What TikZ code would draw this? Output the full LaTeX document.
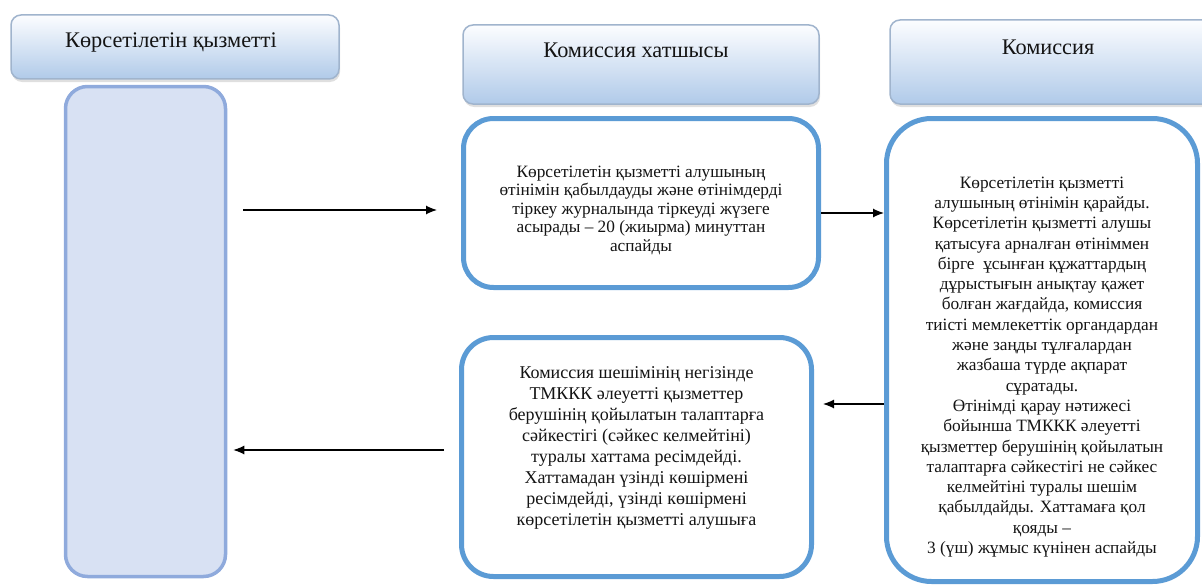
\documentclass[tikz,border=0pt]{standalone}
\usepackage{fontspec}
\setmainfont{Liberation Serif}
\usetikzlibrary{calc,arrows.meta,positioning,shadows}

\definecolor{hdrTop}{RGB}{252,253,255}
\definecolor{hdrBottom}{RGB}{176,202,233}
\definecolor{hdrLine}{RGB}{160,180,205}
\definecolor{laneFill}{RGB}{216,225,243}
\definecolor{laneLine}{RGB}{143,170,220}
\definecolor{stepLine}{RGB}{91,155,213}
\definecolor{txtGray}{RGB}{20,20,20}

\begin{document}
\begin{tikzpicture}
  [x=1pt, y=-1pt, >={Latex[length=11pt,width=9pt]}]

% picture frame
\useasboundingbox (0,0) rectangle (1202,586);
\clip (0,0) rectangle (1202,586);

% define styles
\tikzstyle{header} = [draw=hdrLine, line width=1.5pt, rounded corners=10pt, top color=hdrTop, bottom color=hdrBottom, drop shadow={opacity=0.25, shadow xshift=1pt, shadow yshift=-3pt}, inner sep=0pt];
\tikzstyle{hdrtext} = [font=\fontsize{22.3}{26}\selectfont, text=txtGray];
\tikzstyle{lane} = [draw=laneLine, fill=laneFill, line width=3.5pt, rounded corners=22pt, inner sep=0pt];
\tikzstyle{stepbox} = [draw=stepLine, fill=white, line width=5pt, inner sep=0pt];
\tikzstyle{bodytext} = [align=center, text=txtGray, font=\fontsize{17.3}{19.5}\selectfont];
\tikzstyle{flow} = [->, line width=1.2pt];

% draw headers
\node[header, minimum width=328pt, minimum height=64pt] (hdrRecv) at (175,47) {};
\node[header, minimum width=356pt, minimum height=79pt] (hdrSec) at (641,64.5) {};
\node[header, minimum width=330pt, minimum height=84pt] (hdrComm) at (1055,62) {};

\node[hdrtext] (hdrRecvTxt) at ([xshift=-4pt, yshift=5pt]hdrRecv.center) {Көрсетілетін қызметті};
\node[hdrtext] (hdrSecTxt) at ([xshift=-5pt, yshift=14pt]hdrSec.center) {Комиссия хатшысы};
\node[hdrtext] (hdrCommTxt) at ([xshift=-7pt, yshift=15pt]hdrComm.center) {Комиссия};

% draw lane and steps
\node[lane, minimum width=160pt, minimum height=490pt] (lane) at (145.5,331.5) {};
\node[stepbox, rounded corners=30pt, minimum width=355pt, minimum height=169pt] (boxA) at (641,203) {};
\node[stepbox, rounded corners=45pt, minimum width=311pt, minimum height=463pt] (comm) at (1042,350) {};
\node[stepbox, rounded corners=32pt, minimum width=350pt, minimum height=239pt] (boxC) at (636.5,457) {};

% step texts
\node[bodytext, font=\fontsize{17.3}{18.5}\selectfont] (txtA) at ([yshift=-7pt]boxA.center) {Көрсетілетін қызметті алушының\\
  өтінімін қабылдауды және өтінімдерді\\
  тіркеу журналында тіркеуді жүзеге\\
  асырады – 20 (жиырма) минуттан\\
  аспайды};

\node[bodytext, font=\fontsize{17.3}{20.3}\selectfont] (txtComm) at ([yshift=-17pt]comm.center) {Көрсетілетін қызметті\\
  алушының өтінімін қарайды.\\
  Көрсетілетін қызметті алушы\\
  қатысуға арналған өтініммен\\
  бірге\ \ ұсынған құжаттардың\\
  дұрыстығын анықтау қажет\\
  болған жағдайда, комиссия\\
  тиісті мемлекеттік органдардан\\
  және заңды тұлғалардан\\
  жазбаша түрде ақпарат\\
  сұратады.\\
  Өтінімді қарау нәтижесі\\
  бойынша ТМККК әлеуетті\\
  қызметтер берушінің қойылатын\\
  талаптарға сәйкестігі не сәйкес\\
  келмейтіні туралы шешім\\
  қабылдайды. Хаттамаға қол\\
  қояды –\\
  3 (үш) жұмыс күнінен аспайды};

\node[bodytext, font=\fontsize{18}{21}\selectfont] (txtC) at ([yshift=9pt]boxC.center) {Комиссия шешімінің негізінде\\
  ТМККК әлеуетті қызметтер\\
  берушінің қойылатын талаптарға\\
  сәйкестігі (сәйкес келмейтіні)\\
  туралы хаттама ресімдейді.\\
  Хаттамадан үзінді көшірмені\\
  ресімдейді, үзінді көшірмені\\
  көрсетілетін қызметті алушыға};

% draw arrows
\draw[flow, shorten <=16pt, shorten >=24pt] (lane.east |- txtA) -- (boxA.west |- txtA);
\draw[flow] ([yshift=-10pt]boxA.east) -- ([yshift=-10pt]boxA.east -| comm.west);
\draw[flow, shorten >=9pt] ([yshift=53pt]boxC.east -| comm.west) -- ([yshift=53pt]boxC.east);
\draw[flow, shorten <=15pt, shorten >=6pt] ([yshift=7pt]boxC.west) -- ([yshift=7pt]boxC.west -| lane.east);

\end{tikzpicture}
\end{document}
